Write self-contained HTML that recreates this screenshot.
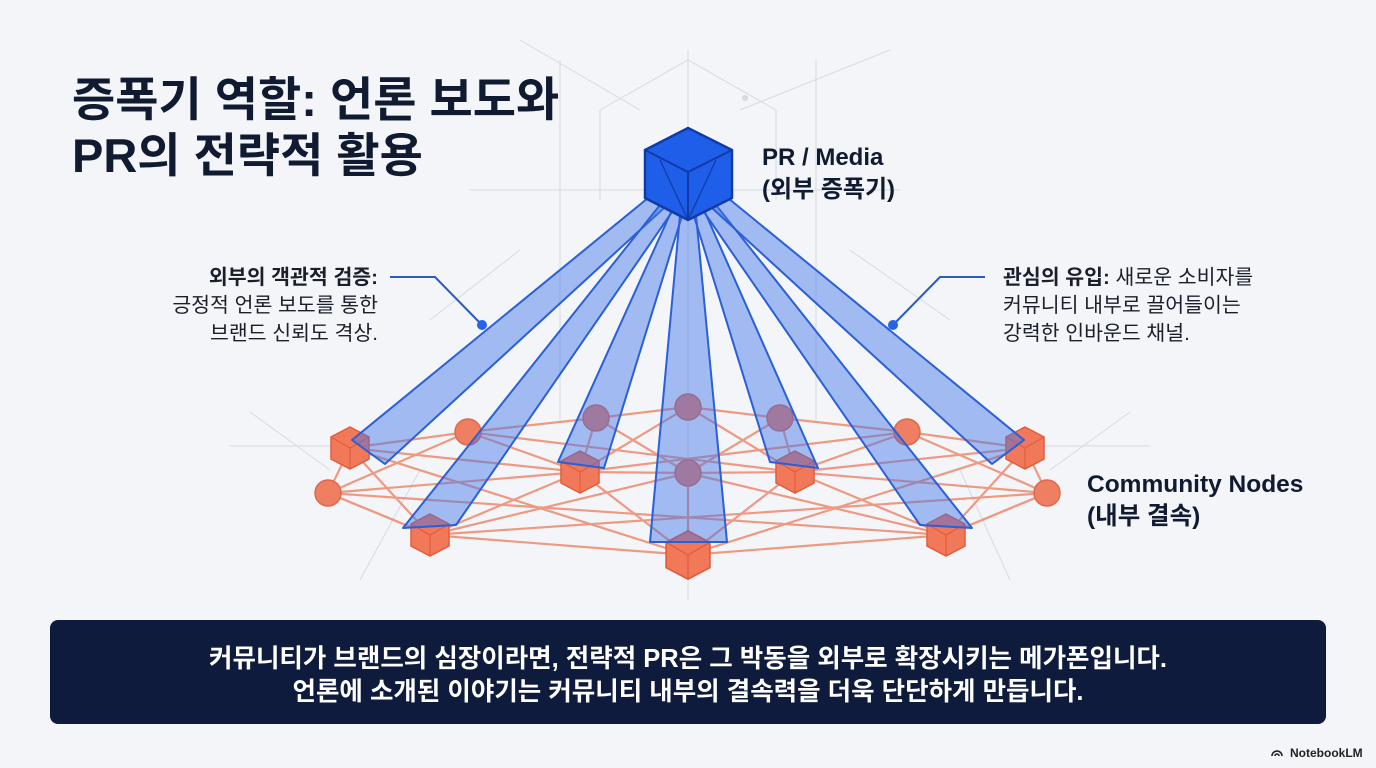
<!DOCTYPE html>
<html><head><meta charset="utf-8"><style>
html,body{margin:0;padding:0;width:1376px;height:768px;overflow:hidden;background:#f3f5f8;}
svg{position:absolute;left:0;top:0;}
.k{font-family:"Liberation Sans","Noto Sans CJK KR",sans-serif;}
</style></head><body>
<svg width="1376" height="768" viewBox="0 0 1376 768" class="k">
<g stroke="#d6dbe3" stroke-width="1" fill="none">
<line x1="688" y1="50" x2="688" y2="600"/>
<line x1="560" y1="60" x2="560" y2="420"/>
<line x1="816" y1="60" x2="816" y2="420"/>
<polyline points="600,200 600,110 688,60 776,110 776,200"/>
<line x1="470" y1="190" x2="900" y2="190"/>
<line x1="640" y1="110" x2="520" y2="40"/>
<line x1="740" y1="110" x2="890" y2="50"/>
<line x1="250" y1="412" x2="330" y2="470"/>
<line x1="1130" y1="412" x2="1050" y2="470"/>
<line x1="230" y1="446" x2="340" y2="446"/>
<line x1="1040" y1="446" x2="1150" y2="446"/>
<line x1="360" y1="580" x2="420" y2="470"/>
<line x1="1010" y1="580" x2="960" y2="470"/>
<line x1="520" y1="250" x2="430" y2="320"/>
<line x1="850" y1="250" x2="950" y2="320"/>
</g>
<circle cx="745" cy="98" r="3" fill="#d6dbe3"/>
<circle cx="548" cy="105" r="3" fill="#d6dbe3"/>
<g stroke="#ee8a6e" stroke-width="2.2" fill="none" opacity="0.85">
<polyline points="350,448 468,432 596,418 688,407 780,418 907,432 1025,448"/>
<polyline points="328,493 430,535 688,555 946,535 1047,493"/>
<polyline points="350,448 328,493 430,535"/>
<polyline points="1025,448 1047,493 946,535"/>
<line x1="350" y1="448" x2="580" y2="472"/><line x1="580" y1="472" x2="688" y2="473"/><line x1="688" y1="473" x2="795" y2="472"/><line x1="795" y1="472" x2="1025" y2="448"/>
<line x1="328" y1="493" x2="580" y2="472"/><line x1="795" y1="472" x2="1047" y2="493"/>
<line x1="350" y1="448" x2="430" y2="535"/><line x1="1025" y1="448" x2="946" y2="535"/>
<line x1="350" y1="448" x2="688" y2="555"/><line x1="1025" y1="448" x2="688" y2="555"/>
<line x1="468" y1="432" x2="580" y2="472"/><line x1="907" y1="432" x2="795" y2="472"/>
<line x1="468" y1="432" x2="328" y2="493"/><line x1="907" y1="432" x2="1047" y2="493"/>
<line x1="596" y1="418" x2="580" y2="472"/><line x1="780" y1="418" x2="795" y2="472"/>
<line x1="596" y1="418" x2="688" y2="473"/><line x1="780" y1="418" x2="688" y2="473"/>
<line x1="688" y1="407" x2="580" y2="472"/><line x1="688" y1="407" x2="795" y2="472"/>
<line x1="580" y1="472" x2="430" y2="535"/><line x1="795" y1="472" x2="946" y2="535"/>
<line x1="580" y1="472" x2="688" y2="555"/><line x1="795" y1="472" x2="688" y2="555"/>
<line x1="430" y1="535" x2="688" y2="473"/><line x1="946" y1="535" x2="688" y2="473"/>
<line x1="468" y1="432" x2="795" y2="472"/><line x1="907" y1="432" x2="580" y2="472"/>
<line x1="328" y1="493" x2="946" y2="535"/><line x1="1047" y1="493" x2="430" y2="535"/>
<line x1="688" y1="473" x2="688" y2="555"/>
</g>
<g fill="#ee7f63" stroke="#e0684a" stroke-width="1.5">
<circle cx="328" cy="493" r="13"/><circle cx="468" cy="432" r="13"/><circle cx="596" cy="418" r="13"/>
<circle cx="688" cy="407" r="13"/><circle cx="688" cy="473" r="13"/><circle cx="780" cy="418" r="13"/>
<circle cx="907" cy="432" r="13"/><circle cx="1047" cy="493" r="13"/>
</g>
<defs>
<g id="c">
<polygon points="0,-21 19,-11 19,11 0,21 -19,11 -19,-11" fill="#f2785a" stroke="#e25d3c" stroke-width="1.5"/>
<polyline points="-19,-11 0,0 19,-11" fill="none" stroke="#e25d3c" stroke-width="1.2"/>
<line x1="0" y1="0" x2="0" y2="21" stroke="#e25d3c" stroke-width="1.2"/>
</g>
</defs>
<use href="#c" x="350" y="448"/><use href="#c" x="430" y="535"/><use href="#c" x="580" y="472"/>
<use href="#c" x="795" y="472"/><use href="#c" x="946" y="535"/><use href="#c" x="1025" y="448"/>
<use href="#c" x="688" y="555" transform="translate(688 555) scale(1.15) translate(-688 -555)"/>
<g fill="#3d74e8" fill-opacity="0.45" stroke="#2a5fd8" stroke-width="2" stroke-linejoin="round">
<polygon points="648,198 664,208 385,464 352,440"/>
<polygon points="660,205 672,212 456,525 403,528"/>
<polygon points="672,210 682,216 604,468 558,462"/>
<polygon points="680,215 696,215 727,542 650,542"/>
<polygon points="694,216 704,210 818,468 770,462"/>
<polygon points="704,212 716,205 972,528 920,525"/>
<polygon points="712,208 728,198 1024,440 992,464"/>
</g>
<polygon points="688,128 732,150 732,198 688,220 645,198 645,150" fill="#1f5ee8" stroke="#103aa8" stroke-width="2.5"/>
<polyline points="645,150 688,172 732,150" fill="none" stroke="#103aa8" stroke-width="2"/>
<line x1="688" y1="172" x2="688" y2="220" stroke="#103aa8" stroke-width="2"/>
<line x1="660" y1="160" x2="688" y2="220" stroke="#103aa8" stroke-width="1.2"/>
<line x1="716" y1="160" x2="688" y2="220" stroke="#103aa8" stroke-width="1.2"/>
<g stroke="#2a5bbf" stroke-width="2" fill="none">
<polyline points="390,277 435,277 482,325"/>
<polyline points="985,277 940,277 893,325"/>
</g>
<circle cx="482" cy="325" r="5" fill="#2563eb"/><circle cx="893" cy="325" r="5" fill="#2563eb"/>
<g fill="#101a30" font-weight="bold">
<text x="72" y="116" font-size="47">증폭기 역할: 언론 보도와</text>
<text x="72" y="172" font-size="47">PR의 전략적 활용</text>
<text x="762" y="165" font-size="24">PR / Media</text>
<text x="762" y="197" font-size="24">(외부 증폭기)</text>
<text x="1087" y="492" font-size="24.5">Community Nodes</text>
<text x="1087" y="524" font-size="24.5">(내부 결속)</text>
</g>
<g fill="#1a1f2b" font-size="20.5">
<text x="378" y="284" text-anchor="end" font-weight="bold">외부의 객관적 검증:</text>
<text x="378" y="312" text-anchor="end">긍정적 언론 보도를 통한</text>
<text x="378" y="340" text-anchor="end">브랜드 신뢰도 격상.</text>
<text x="1003" y="284"><tspan font-weight="bold">관심의 유입:</tspan> 새로운 소비자를</text>
<text x="1003" y="312">커뮤니티 내부로 끌어들이는</text>
<text x="1003" y="340">강력한 인바운드 채널.</text>
</g>
<rect x="50" y="620" width="1276" height="104" rx="8" fill="#0e1b3c"/>
<g fill="#ffffff" font-size="25.5" font-weight="bold" text-anchor="middle">
<text x="688" y="667">커뮤니티가 브랜드의 심장이라면, 전략적 PR은 그 박동을 외부로 확장시키는 메가폰입니다.</text>
<text x="688" y="700">언론에 소개된 이야기는 커뮤니티 내부의 결속력을 더욱 단단하게 만듭니다.</text>
</g>
<text x="1290" y="757" font-size="12" font-weight="bold" fill="#222">NotebookLM</text>
<path d="M1272,756 a5,5 0 0 1 10,0 M1275,756 a2,2 0 0 1 4,0" stroke="#222" stroke-width="1.6" fill="none"/>
</svg>
</body></html>
